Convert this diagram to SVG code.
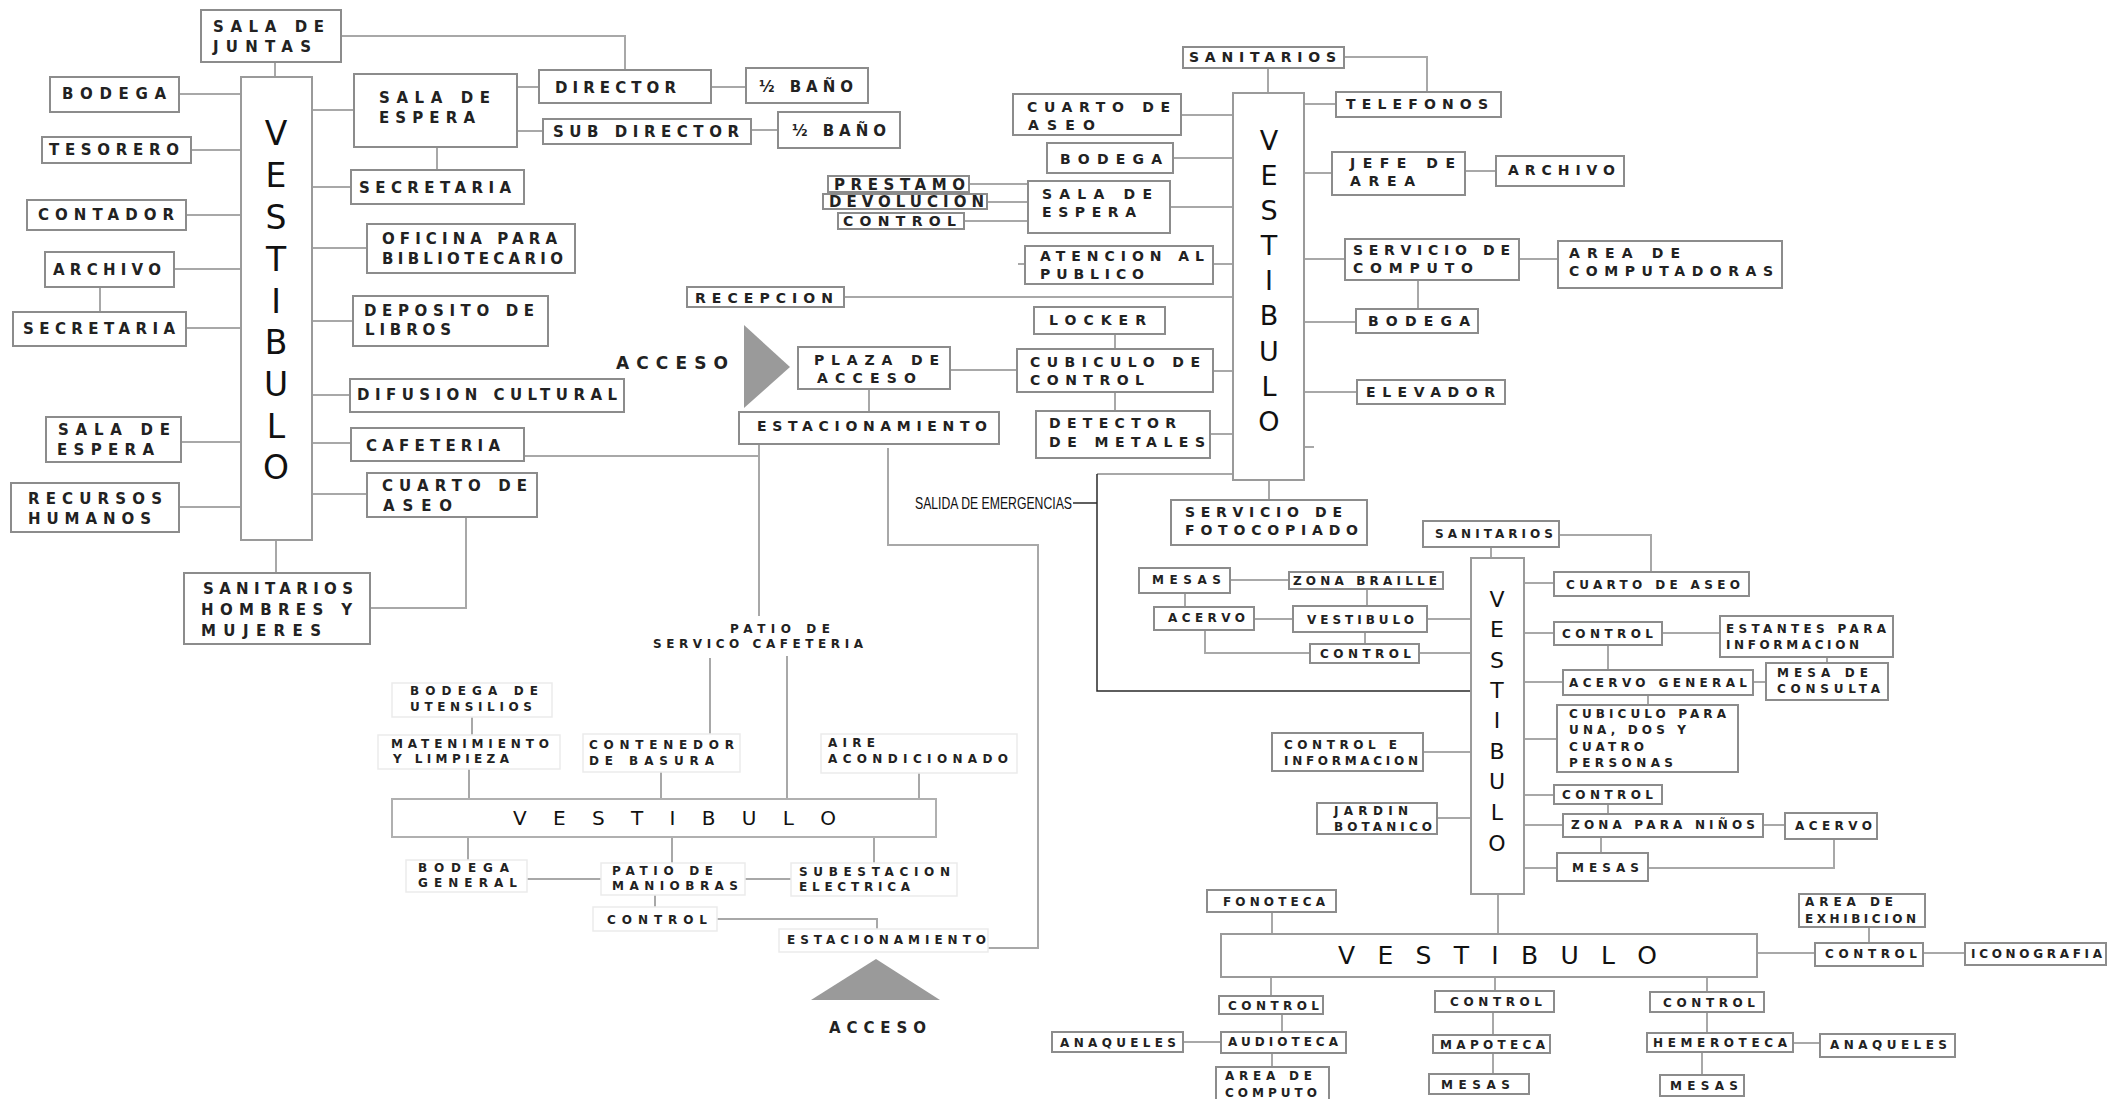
<svg xmlns="http://www.w3.org/2000/svg" width="2107" height="1099" viewBox="0 0 2107 1099">
<style>
.bx{fill:#fff;stroke:#8c8c8c;stroke-width:2}
.fx{fill:#fff;stroke:#ebebeb;stroke-width:1.5}
.vx{fill:#fff;stroke:#9a9a9a;stroke-width:2}
.cn{fill:none;stroke:#a8a8a8;stroke-width:2}
.dk{fill:none;stroke:#2a2a2a;stroke-width:1.5}
.tri{fill:#9a9a9a}
text{font-family:"DejaVu Sans","Liberation Sans",sans-serif;fill:#222;font-weight:bold}
.f15{font-size:15px}
.f14{font-size:14px}
.f13{font-size:13px}
.f12{font-size:12px}
.f11{font-size:11px}
.vt{text-anchor:middle;font-weight:normal;fill:#111}
.vh{font-weight:normal;fill:#111}
</style>
<rect width="2107" height="1099" fill="#fff"/>
<g id="connectors">
<path class="cn" d="M341 36H625V70"/>
<path class="cn" d="M275 62V77"/>
<path class="cn" d="M179 94H241"/>
<path class="cn" d="M191 150H241"/>
<path class="cn" d="M186 215H241"/>
<path class="cn" d="M174 269H241"/>
<path class="cn" d="M100 287V312"/>
<path class="cn" d="M186 328H241"/>
<path class="cn" d="M312 110H354"/>
<path class="cn" d="M517 87H539"/>
<path class="cn" d="M517 131H543"/>
<path class="cn" d="M711 87H746"/>
<path class="cn" d="M751 130H778"/>
<path class="cn" d="M437 147V170"/>
<path class="cn" d="M312 187H351"/>
<path class="cn" d="M312 248H367"/>
<path class="cn" d="M312 321H353"/>
<path class="cn" d="M312 395H350"/>
<path class="cn" d="M312 443H351"/>
<path class="cn" d="M312 494H367"/>
<path class="cn" d="M181 442H241"/>
<path class="cn" d="M179 507H241"/>
<path class="cn" d="M276 540V573"/>
<path class="cn" d="M466 517V608H370"/>
<path class="cn" d="M524 456H759"/>
<path class="cn" d="M759 444V616"/>
<path class="cn" d="M869 389V412"/>
<path class="cn" d="M950 370H1017"/>
<path class="cn" d="M1115 334V349M1115 392V411"/>
<path class="cn" d="M844 297H1233"/>
<path class="cn" d="M969 184H1028M987 202H1028M964 221H1028"/>
<path class="cn" d="M888 448V545H1038V948H988"/>
<path class="cn" d="M1268 68V93"/>
<path class="cn" d="M1344 57H1427V92"/>
<path class="cn" d="M1304 104H1336"/>
<path class="cn" d="M1181 115H1233"/>
<path class="cn" d="M1173 158H1233"/>
<path class="cn" d="M1170 207H1233"/>
<path class="cn" d="M1213 264H1233"/>
<path class="cn" d="M1018 264H1025"/>
<path class="cn" d="M1213 371H1233"/>
<path class="cn" d="M1210 434H1233"/>
<path class="cn" d="M1304 173H1332M1465 171H1496"/>
<path class="cn" d="M1304 259H1345M1519 259H1558"/>
<path class="cn" d="M1418 280V309"/>
<path class="cn" d="M1304 322H1356"/>
<path class="cn" d="M1304 392H1357"/>
<path class="cn" d="M1304 447H1314"/>
<path class="cn" d="M1269 480V500"/>
<path class="cn" d="M1097 474H1233"/>
<path class="dk" d="M1073 503H1097"/>
<path class="dk" d="M1097 474V691H1470"/>
<path class="cn" d="M1491 547V558"/>
<path class="cn" d="M1559 535H1651V572"/>
<path class="cn" d="M1230 580H1289"/>
<path class="cn" d="M1185 593V607"/>
<path class="cn" d="M1367 589V606"/>
<path class="cn" d="M1254 619H1293"/>
<path class="cn" d="M1427 619H1471"/>
<path class="cn" d="M1365 632V644"/>
<path class="cn" d="M1205 630V653H1310"/>
<path class="cn" d="M1419 653H1471"/>
<path class="cn" d="M1524 583H1554"/>
<path class="cn" d="M1524 633H1554M1662 633H1720"/>
<path class="cn" d="M1608 645V670"/>
<path class="cn" d="M1524 682H1563M1753 682H1766"/>
<path class="cn" d="M1827 657V663"/>
<path class="cn" d="M1648 695V705"/>
<path class="cn" d="M1524 739H1557"/>
<path class="cn" d="M1423 752H1471"/>
<path class="cn" d="M1437 818H1471"/>
<path class="cn" d="M1524 795H1554"/>
<path class="cn" d="M1608 804V814"/>
<path class="cn" d="M1524 825H1563M1763 825H1785"/>
<path class="cn" d="M1601 837V853"/>
<path class="cn" d="M1524 868H1557M1648 868H1834V839"/>
<path class="cn" d="M1498 894V934"/>
<path class="cn" d="M1272 912V934"/>
<path class="cn" d="M1271 977V996"/>
<path class="cn" d="M1282 1014V1032"/>
<path class="cn" d="M1183 1042H1221"/>
<path class="cn" d="M1272 1053V1067"/>
<path class="cn" d="M1495 977V991M1493 1012V1035M1493 1053V1074"/>
<path class="cn" d="M1707 977V992M1707 1012V1033M1702 1052V1075"/>
<path class="cn" d="M1793 1043H1820"/>
<path class="cn" d="M1757 953H1815M1923 953H1965"/>
<path class="cn" d="M1869 927V943"/>
<path class="cn" d="M710 658V734"/>
<path class="cn" d="M787 656V799"/>
<path class="cn" d="M472 717V735"/>
<path class="cn" d="M469 769V799"/>
<path class="cn" d="M661 772V799"/>
<path class="cn" d="M919 773V799"/>
<path class="cn" d="M468 837V860"/>
<path class="cn" d="M672 837V863"/>
<path class="cn" d="M874 837V863"/>
<path class="cn" d="M527 879H601M745 879H791"/>
<path class="cn" d="M655 895V907"/>
<path class="cn" d="M717 919H877V929"/>
</g>
<g id="n-sala-juntas"><rect class="bx" x="201" y="10" width="140" height="52"/><text class="f15" x="213" y="32" textLength="111">SALA DE</text><text class="f15" x="213" y="52" textLength="98">JUNTAS</text></g>
<g id="n-bodega-l"><rect class="bx" x="50" y="77" width="129" height="35"/><text class="f15" x="62" y="99" textLength="104">BODEGA</text></g>
<g id="n-tesorero"><rect class="bx" x="42" y="137" width="149" height="26"/><text class="f15" x="49" y="155" textLength="130">TESORERO</text></g>
<g id="n-contador"><rect class="bx" x="27" y="200" width="159" height="30"/><text class="f15" x="38" y="220" textLength="136">CONTADOR</text></g>
<g id="n-archivo-l"><rect class="bx" x="45" y="252" width="129" height="35"/><text class="f15" x="53" y="275" textLength="108">ARCHIVO</text></g>
<g id="n-secretaria-l"><rect class="bx" x="13" y="312" width="173" height="34"/><text class="f15" x="23" y="334" textLength="152">SECRETARIA</text></g>
<g id="n-sala-espera-r"><rect class="bx" x="354" y="74" width="163" height="73"/><text class="f15" x="379" y="103" textLength="111">SALA DE</text><text class="f15" x="379" y="123" textLength="96">ESPERA</text></g>
<g id="n-director"><rect class="bx" x="539" y="70" width="172" height="33"/><text class="f15" x="555" y="93" textLength="121">DIRECTOR</text></g>
<g id="n-bano-1"><rect class="bx" x="746" y="68" width="122" height="35"/><text class="f15" x="759" y="92" textLength="94">½ BAÑO</text></g>
<g id="n-subdirector"><rect class="bx" x="543" y="119" width="208" height="25"/><text class="f15" x="553" y="137" textLength="186">SUB DIRECTOR</text></g>
<g id="n-bano-2"><rect class="bx" x="778" y="112" width="122" height="36"/><text class="f15" x="792" y="136" textLength="94">½ BAÑO</text></g>
<g id="n-secretaria-r"><rect class="bx" x="351" y="170" width="173" height="34"/><text class="f15" x="359" y="193" textLength="152">SECRETARIA</text></g>
<g id="n-oficina"><rect class="bx" x="367" y="224" width="208" height="49"/><text class="f15" x="382" y="244" textLength="175">OFICINA PARA</text><text class="f15" x="382" y="264" textLength="181">BIBLIOTECARIO</text></g>
<g id="n-deposito"><rect class="bx" x="353" y="296" width="195" height="50"/><text class="f15" x="364" y="316" textLength="170">DEPOSITO DE</text><text class="f15" x="365" y="335" textLength="86">LIBROS</text></g>
<g id="n-difusion"><rect class="bx" x="350" y="379" width="274" height="33"/><text class="f15" x="357" y="400" textLength="260">DIFUSION CULTURAL</text></g>
<g id="n-cafeteria"><rect class="bx" x="351" y="428" width="173" height="33"/><text class="f15" x="366" y="451" textLength="134">CAFETERIA</text></g>
<g id="n-sala-espera-l"><rect class="bx" x="46" y="417" width="135" height="45"/><text class="f15" x="58" y="435" textLength="112">SALA DE</text><text class="f15" x="57" y="455" textLength="97">ESPERA</text></g>
<g id="n-recursos"><rect class="bx" x="11" y="483" width="168" height="49"/><text class="f15" x="28" y="504" textLength="134">RECURSOS</text><text class="f15" x="28" y="524" textLength="123">HUMANOS</text></g>
<g id="n-cuarto-aseo-l"><rect class="bx" x="367" y="473" width="170" height="44"/><text class="f15" x="382" y="491" textLength="145">CUARTO DE</text><text class="f15" x="383" y="511" textLength="69">ASEO</text></g>
<g id="n-sanitarios-l"><rect class="bx" x="184" y="573" width="186" height="71"/><text class="f15" x="203" y="594" textLength="150">SANITARIOS</text><text class="f15" x="201" y="615" textLength="151">HOMBRES Y</text><text class="f15" x="201" y="636" textLength="120">MUJERES</text></g>
<g id="n-vestibulo-1"><rect class="vx" x="241" y="77" width="71" height="463"/><text class="vt" style="font-size:33px" x="276 276 276 276 276 276 276 276 276" y="145 187 229 271 313 354 396 438 479">VESTIBULO</text></g>
<g id="n-recepcion"><rect class="bx" x="687" y="287" width="157" height="20"/><text class="f14" x="695" y="303" textLength="138">RECEPCION</text></g>
<g id="n-acceso-1"><text style="font-size:17px" x="616" y="369" textLength="112">ACCESO</text><polygon class="tri" points="744,325 790,367 744,408"/></g>
<g id="n-plaza"><rect class="bx" x="798" y="347" width="152" height="42"/><text class="f14" x="814" y="365" textLength="125">PLAZA DE</text><text class="f14" x="817" y="383" textLength="99">ACCESO</text></g>
<g id="n-estacionamiento-1"><rect class="bx" x="739" y="412" width="260" height="32"/><text class="f14" x="757" y="431" textLength="230">ESTACIONAMIENTO</text></g>
<g id="n-locker"><rect class="bx" x="1034" y="307" width="131" height="27"/><text class="f14" x="1049" y="325" textLength="97">LOCKER</text></g>
<g id="n-cubiculo-control"><rect class="bx" x="1017" y="349" width="196" height="43"/><text class="f14" x="1030" y="367" textLength="170">CUBICULO DE</text><text class="f14" x="1030" y="385" textLength="114">CONTROL</text></g>
<g id="n-detector"><rect class="bx" x="1036" y="411" width="174" height="47"/><text class="f14" x="1049" y="428" textLength="127">DETECTOR</text><text class="f14" x="1049" y="447" textLength="156">DE METALES</text></g>
<g id="n-salida"><text style="font-family:'Liberation Sans',sans-serif;font-size:17px;fill:#111;font-weight:normal" x="915" y="509" textLength="157" lengthAdjust="spacingAndGlyphs">SALIDA DE EMERGENCIAS</text></g>
<g id="n-prestamo"><rect class="bx" x="828" y="176" width="141" height="16"/><text class="f15" x="834" y="190" textLength="131">PRESTAMO</text></g>
<g id="n-devolucion"><rect class="bx" x="823" y="194" width="164" height="15"/><text class="f15" x="829" y="207" textLength="155">DEVOLUCION</text></g>
<g id="n-control-p"><rect class="bx" x="838" y="213" width="126" height="16"/><text class="f14" x="843" y="226" textLength="113">CONTROL</text></g>
<g id="n-sanitarios-2"><rect class="bx" x="1183" y="47" width="161" height="21"/><text class="f14" x="1189" y="62" textLength="147">SANITARIOS</text></g>
<g id="n-telefonos"><rect class="bx" x="1336" y="92" width="165" height="25"/><text class="f14" x="1346" y="109" textLength="142">TELEFONOS</text></g>
<g id="n-cuarto-aseo-2"><rect class="bx" x="1013" y="94" width="168" height="41"/><text class="f14" x="1027" y="112" textLength="143">CUARTO DE</text><text class="f14" x="1028" y="130" textLength="67">ASEO</text></g>
<g id="n-bodega-2"><rect class="bx" x="1047" y="143" width="126" height="30"/><text class="f14" x="1060" y="164" textLength="102">BODEGA</text></g>
<g id="n-sala-espera-2"><rect class="bx" x="1028" y="181" width="142" height="52"/><text class="f14" x="1042" y="199" textLength="110">SALA DE</text><text class="f14" x="1042" y="217" textLength="94">ESPERA</text></g>
<g id="n-atencion"><rect class="bx" x="1025" y="246" width="188" height="38"/><text class="f14" x="1040" y="261" textLength="164">ATENCION AL</text><text class="f14" x="1040" y="279" textLength="104">PUBLICO</text></g>
<g id="n-jefe"><rect class="bx" x="1332" y="152" width="133" height="43"/><text class="f14" x="1350" y="168" textLength="105">JEFE DE</text><text class="f14" x="1350" y="186" textLength="65">AREA</text></g>
<g id="n-archivo-2"><rect class="bx" x="1496" y="156" width="128" height="30"/><text class="f14" x="1508" y="175" textLength="107">ARCHIVO</text></g>
<g id="n-computo"><rect class="bx" x="1345" y="239" width="174" height="41"/><text class="f14" x="1353" y="255" textLength="157">SERVICIO DE</text><text class="f14" x="1353" y="273" textLength="120">COMPUTO</text></g>
<g id="n-area-computadoras"><rect class="bx" x="1558" y="241" width="224" height="47"/><text class="f14" x="1569" y="258" textLength="111">AREA DE</text><text class="f14" x="1569" y="276" textLength="204">COMPUTADORAS</text></g>
<g id="n-bodega-3"><rect class="bx" x="1356" y="309" width="122" height="24"/><text class="f14" x="1368" y="326" textLength="102">BODEGA</text></g>
<g id="n-elevador"><rect class="bx" x="1357" y="380" width="148" height="24"/><text class="f14" x="1366" y="397" textLength="129">ELEVADOR</text></g>
<g id="n-vestibulo-2"><rect class="vx" x="1233" y="93" width="71" height="387"/><text class="vt" style="font-size:27px" x="1269 1269 1269 1269 1269 1269 1269 1269 1269" y="150 185 220 255 290 325 361 396 431">VESTIBULO</text></g>
<g id="n-fotocopiado"><rect class="bx" x="1171" y="500" width="196" height="45"/><text class="f14" x="1185" y="517" textLength="157">SERVICIO DE</text><text class="f14" x="1185" y="535" textLength="173">FOTOCOPIADO</text></g>
<g id="n-sanitarios-3"><rect class="bx" x="1423" y="521" width="136" height="26"/><text class="f12" x="1435" y="538" textLength="118">SANITARIOS</text></g>
<g id="n-mesas-1"><rect class="bx" x="1139" y="568" width="91" height="25"/><text class="f12" x="1152" y="584" textLength="69">MESAS</text></g>
<g id="n-zona-braille"><rect class="bx" x="1289" y="572" width="154" height="17"/><text class="f12" x="1293" y="585" textLength="144">ZONA BRAILLE</text></g>
<g id="n-acervo-1"><rect class="bx" x="1154" y="607" width="100" height="23"/><text class="f12" x="1168" y="622" textLength="77">ACERVO</text></g>
<g id="n-vestibulo-small"><rect class="bx" x="1293" y="606" width="134" height="26"/><text class="f12" x="1307" y="624" textLength="107">VESTIBULO</text></g>
<g id="n-control-1"><rect class="bx" x="1310" y="644" width="109" height="19"/><text class="f12" x="1320" y="658" textLength="91">CONTROL</text></g>
<g id="n-cuarto-aseo-3"><rect class="bx" x="1554" y="572" width="195" height="24"/><text class="f12" x="1566" y="589" textLength="174">CUARTO DE ASEO</text></g>
<g id="n-control-2"><rect class="bx" x="1554" y="622" width="108" height="23"/><text class="f12" x="1562" y="638" textLength="91">CONTROL</text></g>
<g id="n-estantes"><rect class="bx" x="1720" y="616" width="173" height="41"/><text class="f12" x="1726" y="633" textLength="160">ESTANTES PARA</text><text class="f12" x="1726" y="649" textLength="133">INFORMACION</text></g>
<g id="n-acervo-general"><rect class="bx" x="1563" y="670" width="190" height="25"/><text class="f12" x="1569" y="687" textLength="178">ACERVO GENERAL</text></g>
<g id="n-mesa-consulta"><rect class="bx" x="1766" y="663" width="122" height="37"/><text class="f12" x="1777" y="677" textLength="91">MESA DE</text><text class="f12" x="1777" y="693" textLength="103">CONSULTA</text></g>
<g id="n-cubiculo-personas"><rect class="bx" x="1557" y="705" width="181" height="67"/><text class="f12" x="1569" y="718" textLength="157">CUBICULO PARA</text><text class="f12" x="1569" y="734" textLength="117">UNA, DOS Y</text><text class="f12" x="1569" y="751" textLength="75">CUATRO</text><text class="f12" x="1569" y="767" textLength="104">PERSONAS</text></g>
<g id="n-control-info"><rect class="bx" x="1272" y="733" width="151" height="38"/><text class="f12" x="1284" y="749" textLength="113">CONTROL E</text><text class="f12" x="1284" y="765" textLength="134">INFORMACION</text></g>
<g id="n-jardin"><rect class="bx" x="1317" y="803" width="120" height="31"/><text class="f12" x="1334" y="815" textLength="74">JARDIN</text><text class="f12" x="1334" y="831" textLength="98">BOTANICO</text></g>
<g id="n-control-3"><rect class="bx" x="1554" y="785" width="108" height="19"/><text class="f12" x="1562" y="799" textLength="91">CONTROL</text></g>
<g id="n-zona-ninos"><rect class="bx" x="1563" y="814" width="200" height="23"/><text class="f12" x="1571" y="829" textLength="184">ZONA PARA NIÑOS</text></g>
<g id="n-acervo-2"><rect class="bx" x="1785" y="813" width="92" height="26"/><text class="f12" x="1795" y="830" textLength="77">ACERVO</text></g>
<g id="n-mesas-2"><rect class="bx" x="1557" y="853" width="91" height="28"/><text class="f12" x="1572" y="872" textLength="67">MESAS</text></g>
<g id="n-vestibulo-3"><rect class="vx" x="1471" y="558" width="53" height="336"/><text class="vt" style="font-size:22px" x="1497 1497 1497 1497 1497 1497 1497 1497 1497" y="607 637 668 698 728 759 789 820 851">VESTIBULO</text></g>
<g id="n-fonoteca"><rect class="bx" x="1207" y="890" width="129" height="22"/><text class="f12" x="1223" y="906" textLength="102">FONOTECA</text></g>
<g id="n-vestibulo-4"><rect class="vx" x="1221" y="934" width="536" height="43"/><text class="vh" style="font-size:25px" x="1338" y="964" textLength="319">V E S T I B U L O</text></g>
<g id="n-control-a"><rect class="bx" x="1219" y="996" width="104" height="18"/><text class="f12" x="1228" y="1010" textLength="91">CONTROL</text></g>
<g id="n-audioteca"><rect class="bx" x="1221" y="1032" width="125" height="21"/><text class="f12" x="1228" y="1046" textLength="110">AUDIOTECA</text></g>
<g id="n-anaqueles-1"><rect class="bx" x="1052" y="1032" width="131" height="20"/><text class="f12" x="1060" y="1047" textLength="116">ANAQUELES</text></g>
<g id="n-area-computo"><rect class="bx" x="1216" y="1067" width="113" height="40"/><text class="f12" x="1225" y="1080" textLength="87">AREA DE</text><text class="f12" x="1225" y="1097" textLength="92">COMPUTO</text></g>
<g id="n-control-b"><rect class="bx" x="1435" y="991" width="119" height="21"/><text class="f12" x="1450" y="1006" textLength="92">CONTROL</text></g>
<g id="n-mapoteca"><rect class="bx" x="1433" y="1035" width="117" height="18"/><text class="f12" x="1440" y="1049" textLength="105">MAPOTECA</text></g>
<g id="n-mesas-3"><rect class="bx" x="1429" y="1074" width="100" height="20"/><text class="f12" x="1441" y="1089" textLength="69">MESAS</text></g>
<g id="n-exhibicion"><rect class="bx" x="1799" y="894" width="126" height="33"/><text class="f12" x="1805" y="906" textLength="88">AREA DE</text><text class="f12" x="1805" y="923" textLength="111">EXHIBICION</text></g>
<g id="n-control-c"><rect class="bx" x="1815" y="943" width="108" height="23"/><text class="f12" x="1825" y="958" textLength="92">CONTROL</text></g>
<g id="n-iconografia"><rect class="bx" x="1965" y="943" width="141" height="22"/><text class="f12" x="1971" y="958" textLength="131">ICONOGRAFIA</text></g>
<g id="n-control-d"><rect class="bx" x="1650" y="992" width="114" height="20"/><text class="f12" x="1663" y="1007" textLength="92">CONTROL</text></g>
<g id="n-hemeroteca"><rect class="bx" x="1647" y="1033" width="146" height="19"/><text class="f12" x="1653" y="1047" textLength="134">HEMEROTECA</text></g>
<g id="n-anaqueles-2"><rect class="bx" x="1820" y="1034" width="135" height="23"/><text class="f12" x="1830" y="1049" textLength="117">ANAQUELES</text></g>
<g id="n-mesas-4"><rect class="bx" x="1660" y="1075" width="84" height="21"/><text class="f12" x="1670" y="1090" textLength="68">MESAS</text></g>
<g id="n-patio-servicio"><text class="f12" x="730" y="633" textLength="100">PATIO DE</text><text class="f12" x="653" y="648" textLength="210">SERVICO CAFETERIA</text></g>
<g id="n-utensilios"><rect class="fx" x="392" y="683" width="160" height="34"/><text class="f12" x="410" y="695" textLength="128">BODEGA DE</text><text class="f12" x="410" y="711" textLength="122">UTENSILIOS</text></g>
<g id="n-matenimiento"><rect class="fx" x="378" y="735" width="182" height="34"/><text class="f12" x="391" y="748" textLength="158">MATENIMIENTO</text><text class="f12" x="393" y="763" textLength="116">Y LIMPIEZA</text></g>
<g id="n-contenedor"><rect class="fx" x="583" y="734" width="157" height="38"/><text class="f12" x="589" y="749" textLength="145">CONTENEDOR</text><text class="f12" x="589" y="765" textLength="125">DE BASURA</text></g>
<g id="n-aire"><rect class="fx" x="821" y="734" width="196" height="39"/><text class="f12" x="828" y="747" textLength="47">AIRE</text><text class="f12" x="828" y="763" textLength="180">ACONDICIONADO</text></g>
<g id="n-vestibulo-5"><rect class="vx" x="392" y="799" width="544" height="38" style="stroke:#b0b0b0"/><text class="vh" style="font-size:20px" x="513" y="825" textLength="323">V E S T I B U L O</text></g>
<g id="n-bodega-general"><rect class="fx" x="406" y="860" width="121" height="32"/><text class="f12" x="418" y="872" textLength="91">BODEGA</text><text class="f12" x="418" y="887" textLength="99">GENERAL</text></g>
<g id="n-maniobras"><rect class="fx" x="601" y="863" width="144" height="32"/><text class="f12" x="612" y="875" textLength="101">PATIO DE</text><text class="f12" x="612" y="890" textLength="126">MANIOBRAS</text></g>
<g id="n-subestacion"><rect class="fx" x="791" y="863" width="166" height="33"/><text class="f12" x="799" y="876" textLength="151">SUBESTACION</text><text class="f12" x="799" y="891" textLength="111">ELECTRICA</text></g>
<g id="n-control-bl"><rect class="fx" x="593" y="907" width="124" height="24"/><text class="f12" x="607" y="924" textLength="100">CONTROL</text></g>
<g id="n-estacionamiento-2"><rect class="fx" x="779" y="929" width="209" height="23"/><text class="f12" x="787" y="944" textLength="199">ESTACIONAMIENTO</text></g>
<g id="n-acceso-2"><polygon class="tri" points="811,1000 876,959 940,1000"/><text style="font-size:15px" x="829" y="1033" textLength="97">ACCESO</text></g>
</svg>
